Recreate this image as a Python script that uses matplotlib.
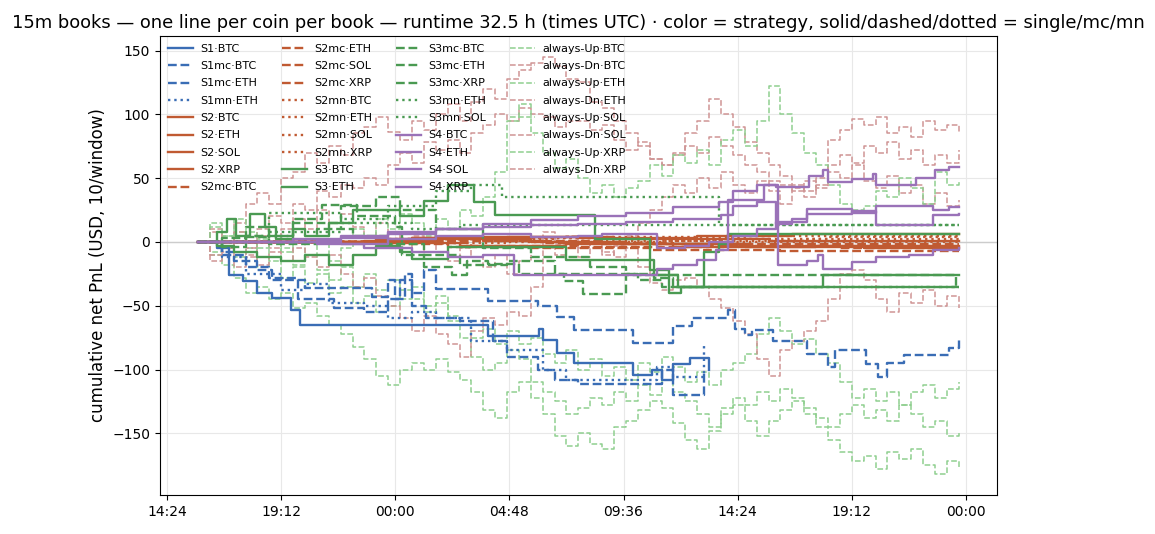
import numpy as np
import matplotlib
matplotlib.use("Agg")
import matplotlib.pyplot as plt
import matplotlib.dates as mdates
from matplotlib.ticker import MultipleLocator
import datetime as dt

START = dt.datetime(2025, 1, 1, 15, 42)

# ---- strategy step series: (hours since start, cumulative PnL) ----
S1_BTC_T = [0, 0.8, 1.3, 1.9, 2.5, 3.1, 3.9, 4.3, 12.2, 14.35, 14.5, 15.1, 15.8, 18.3, 19.1, 19.5, 20.0, 20.7, 21.5]
S1_BTC_V = [0, -5, -26, -31, -40, -44, -53, -65, -74, -68, -77, -87, -95, -104, -100, -108, -96, -91, -100]
S1mc_BTC_T = [0, 1.0, 1.5, 2.5, 3.1, 4.5, 7.3, 8.0, 8.3, 8.7, 9.0, 9.5, 10.0, 12.2, 14.3, 15.1, 15.8, 18.3, 20.0, 20.8, 22.3, 22.6, 23.0, 23.3, 24.2, 25.6, 26.5, 26.8, 28.1, 28.6, 29.0, 29.7, 31.6, 32.0]
S1mc_BTC_V = [0, -8, -15, -22, -30, -36, -43, -30, -45, -25, -40, -22, -37, -46, -50, -59, -69, -79, -66, -60, -53, -68, -73, -69, -78, -88, -98, -85, -96, -106, -95, -89, -83, -75]
S1mc_ETH_T = [0, 1.0, 2.0, 3.0, 4.2, 5.7, 7.0, 8.0, 8.5, 9.0, 9.6, 11.0, 12.4, 13.0, 14.3, 15.0, 16.0, 19.0, 19.5, 20.0, 21.2, 21.3]
S1mc_ETH_V = [0, -10, -20, -28, -45, -52, -55, -45, -30, -50, -60, -62, -78, -90, -100, -108, -111, -111, -100, -120, -120, -100]
S1mn_ETH_T = [0, 1.0, 2.0, 3.5, 4.5, 5.5, 7.0, 8.0, 9.0, 10.0, 11.5, 13.0, 14.5, 15.5, 19.0, 19.3, 20.0, 21.2, 21.3]
S1mn_ETH_V = [0, -12, -25, -38, -33, -48, -50, -60, -55, -60, -78, -85, -100, -108, -108, -98, -106, -106, -81]

S2_BTC_T = [0, 7.5, 9.0, 12.0, 16.0, 21.0, 25.0, 32.0]
S2_BTC_V = [0, 2, 3, 4, 3, 5, 6, 6]
S2_ETH_T = [0, 8.0, 11.0, 15.5, 20.0, 26.0, 32.0]
S2_ETH_V = [0, -1, -3, -2, -4, -3, -3]
S2_SOL_T = [0, 7.0, 10.0, 14.0, 18.0, 23.0, 28.0, 32.0]
S2_SOL_V = [0, 1, 2, 0, -2, -4, -5, -5]
S2_XRP_T = [0, 9.0, 13.0, 17.5, 24.0, 32.0]
S2_XRP_V = [0, 3, 4, 2, 1, 1]
S2mc_BTC_T = [0, 7.8, 10.5, 14.0, 19.0, 24.5, 32.0]
S2mc_BTC_V = [0, -2, -4, -5, -6, -7, -7]
S2mc_ETH_T = [0, 8.5, 12.0, 17.0, 22.0, 32.0]
S2mc_ETH_V = [0, 2, 1, -2, -3, -3]
S2mc_SOL_T = [0, 7.2, 11.5, 16.0, 21.5, 27.0, 32.0]
S2mc_SOL_V = [0, -1, -3, -4, -3, -5, -5]
S2mc_XRP_T = [0, 9.5, 14.5, 20.0, 32.0]
S2mc_XRP_V = [0, 1, -1, -2, -2]
S2mn_BTC_T = [0, 8.0, 12.5, 18.0, 26.5, 32.0]
S2mn_BTC_V = [0, 2, 3, 2, 4, 4]
S2mn_ETH_T = [0, 7.5, 11.0, 16.5, 23.0, 32.0]
S2mn_ETH_V = [0, 1, 3, 4, 5, 5]
S2mn_SOL_T = [0, 8.2, 13.0, 19.5, 25.5, 32.0]
S2mn_SOL_V = [0, -1, 0, 1, 2, 2]
S2mn_XRP_T = [0, 9.0, 15.0, 22.0, 32.0]
S2mn_XRP_V = [0, 2, 1, 0, 0]

S3_BTC_T = [0, 0.8, 1.2, 1.6, 2.2, 2.8, 3.3, 4.0, 4.5, 5.5, 6.5, 8.5, 9.5, 10.5, 11.6, 12.5, 16.3, 16.7, 18.0, 19.0, 19.8, 20.3, 21.3, 21.9, 22.3, 32.0]
S3_BTC_V = [0, 8, 18, 5, 22, 12, 2, 10, 5, 15, 25, 20, 32, 45, 31, 21, 21, 2, 2, -22, -40, -35, -8, -2, 6, 6]
S3_ETH_T = [0, 0.8, 1.5, 2.5, 3.5, 4.5, 5.5, 6.5, 7.5, 8.5, 9.0, 10.5, 14.5, 15.5, 18.5, 19.2, 20.2, 26.3, 32.0]
S3_ETH_V = [0, -3, -8, -12, -15, -10, -18, -10, -3, -8, -13, -4, -4, -14, -14, -26, -35, -26, -26]
S3mc_BTC_T = [0, 1.0, 2.0, 3.0, 4.0, 5.2, 6.7, 8.3, 8.6, 9.5, 10.7, 11.3, 12.2, 13.5, 15.4, 16.2, 17.5, 18.0, 31.9]
S3mc_BTC_V = [0, 3, 12, 5, 18, 29, 20, 12, -10, -20, -26, -15, -17, -25, -31, -41, -41, -26, -35]
S3mc_ETH_T = [0, 1.0, 2.0, 3.0, 5.0, 6.5, 8.0, 9.5, 11.0, 13.0, 15.0, 17.0, 18.5, 19.5, 32.0]
S3mc_ETH_V = [0, -4, 4, -2, 10, 5, -2, -10, -18, -15, -25, -25, -30, -35, -35]
S3mc_XRP_T = [0, 2.0, 4.0, 6.0, 7.5, 8.5, 10.0, 12.0, 14.0, 16.5, 18.0, 19.2, 20.0, 32.0]
S3mc_XRP_V = [0, 5, 15, 28, 35, 25, 10, -5, -12, -20, -25, -28, -35, -35]
S3mn_ETH_T = [0, 2.0, 3.0, 6.0, 8.0, 10.0, 11.5, 12.8, 21.9, 32.0]
S3mn_ETH_V = [0, 5, 23, 18, 28, 40, 45, 35, 13, 13]
S3mn_SOL_T = [0, 3.0, 6.0, 9.0, 11.0, 32.0]
S3mn_SOL_V = [0, 8, 15, 10, 13, 13]

S4_BTC_T = [0, 5.0, 6.0, 8.0, 10.0, 12.0, 14.0, 16.0, 18.0, 20.0, 21.9, 22.5, 23.5, 24.3, 25.7, 26.3, 26.5, 27.5, 28.4, 28.5, 30.2, 31.0, 31.6, 32.0]
S4_BTC_V = [0, 1, 3, 6, 10, 14, 17, 20, 23, 27, 31, 40, 45, 43, 52, 56, 47, 49, 53, 45, 50, 56, 59, 59]
S4_ETH_T = [0, 4.0, 6.0, 8.0, 10.0, 12.0, 14.0, 16.0, 18.0, 20.0, 22.0, 22.5, 23.5, 24.3, 25.0, 25.6, 27.5, 28.5, 30.9, 31.6, 32.0]
S4_ETH_V = [0, 2, 5, 8, 10, 12, 13, 14, 16, 18, 21, 28, 31, 14, 18, 26, 23, 28, 25, 27, 27]
S4_SOL_T = [0, 5.0, 7.0, 9.0, 10.5, 12.0, 13.3, 18.3, 19.3, 20.0, 21.0, 21.8, 22.3, 23.8, 24.4, 25.6, 26.1, 26.3, 27.5, 28.5, 29.9, 30.9, 32.0]
S4_SOL_V = [0, -2, -5, -8, -12, -10, -26, -26, -21, -18, -14, -6, 33, 45, -18, -15, -10, -21, -16, -12, -10, -6, -5]
S4_XRP_T = [0, 6.0, 8.0, 10.0, 12.0, 14.0, 16.0, 17.0, 19.3, 20.5, 21.5, 22.5, 23.5, 24.3, 25.6, 27.5, 28.5, 30.9, 32.0]
S4_XRP_V = [0, -2, 2, 5, 6, 4, 5, 6, -5, -3, 0, 5, 10, 16, 22, 24, 13, 21, 22]

# ---- baseline books, sampled every 30 min ----
ALW_T = [0.5 * k for k in range(65)]
UP_BTC = [0, -10, -18, -28, -40, -35, -45, -40, -52, -48, -58, -65, -72, -82, -92, -105, -112, -100, -95, -100, -92, -102, -108, -118, -132, -138, -118, -110, -122, -135, -152, -160, -150, -158, -162, -145, -140, -132, -125, -130, -142, -155, -162, -148, -135, -128, -140, -152, -140, -132, -125, -135, -145, -155, -165, -172, -168, -178, -165, -170, -162, -175, -182, -172, -177]
DN_BTC = [0, 8, -5, 15, 30, 38, 30, 50, 55, 70, 62, 75, 68, 85, 90, 98, 86, 80, 95, 88, 100, 108, 95, 110, 120, 112, 128, 135, 140, 145, 138, 128, 125, 110, 105, 95, 85, 75, 65, 60, 70, 85, 95, 112, 100, 90, 78, 70, 60, 52, 45, 40, 50, 80, 88, 96, 92, 98, 85, 90, 82, 95, 88, 92, 85]
UP_ETH = [0, -8, 5, -12, -5, -20, -12, -28, -20, -32, -25, -40, -35, -48, -42, -55, -50, -38, -45, -55, -48, -62, -75, -90, -100, -95, -85, -92, -110, -118, -125, -135, -130, -122, -128, -118, -125, -112, -120, -108, -118, -125, -135, -145, -130, -122, -128, -118, -125, -115, -122, -130, -138, -145, -135, -128, -138, -132, -140, -128, -135, -145, -140, -152, -148]
DN_ETH = [0, -10, -5, 5, -5, 10, 20, 15, 30, 25, 40, 35, 45, 42, 50, 45, 60, 70, 62, 78, 72, 80, 70, 85, 92, 100, 95, 105, 100, 98, 90, 95, 95, 88, 92, 80, 72, 78, 65, 60, 68, 75, 70, 82, 75, 68, 60, 55, 48, 45, 40, 48, 42, 60, 68, 62, 75, 70, 78, 65, 72, 60, 68, 62, 72]
UP_SOL = [0, 12, -3, 8, -8, 2, -15, -5, -18, -10, -22, -30, -20, -35, -25, -38, -30, -45, -35, -50, -42, -58, -65, -75, -68, -80, -70, -80, -75, -88, -95, -85, -100, -92, -105, -98, -108, -95, -102, -90, -98, -110, -102, -112, -100, -95, -88, -72, -60, -70, -80, -76, -88, -95, -110, -122, -115, -125, -118, -128, -118, -112, -122, -115, -110]
DN_SOL = [0, 10, -5, 8, -10, 5, -5, 10, 18, 10, 25, 15, 22, 12, 5, 15, 8, -5, 5, -8, -2, -15, -5, -12, -20, -10, -25, -15, -5, 8, -2, 5, -5, 0, -10, -3, 5, 15, 25, 35, 45, 38, 50, 42, 55, 45, 38, 48, 40, 30, 42, 35, 45, 55, 50, 60, 48, 42, 52, 38, 45, 30, 38, 28, 33]
UP_XRP = [0, 15, 5, 18, 8, -5, 5, -8, 2, -10, -2, -15, -5, 10, 5, 18, 10, 22, 15, 5, 18, 10, 25, 20, 35, 55, 95, 108, 85, 70, 58, 65, 50, 38, 45, 35, 42, 48, 60, 52, 68, 62, 72, 60, 80, 88, 75, 95, 122, 100, 85, 70, 60, 45, 30, 25, 28, 40, 35, 50, 42, 30, 55, 45, 48]
DN_XRP = [0, -15, -8, -20, -12, -18, -8, -15, -5, -12, -20, -10, -25, -35, -28, -42, -50, -60, -70, -58, -72, -80, -90, -70, -60, -65, -55, -58, -35, -5, -10, -5, -12, -2, -8, -12, -5, -20, -32, -38, -30, -28, -35, -45, -52, -62, -72, -92, -105, -85, -78, -70, -62, -45, -25, -22, -30, -45, -55, -40, -48, -38, -50, -42, -52]

C_S1, C_S2, C_S3, C_S4 = "#3a6db5", "#c05a32", "#4a9a52", "#9a72b8"
C_UP, C_DN = "#8fcf8f", "#cf9494"

strategy_series = [
    ("S1·BTC", S1_BTC_T, S1_BTC_V, C_S1, "-"),
    ("S1mc·BTC", S1mc_BTC_T, S1mc_BTC_V, C_S1, "--"),
    ("S1mc·ETH", S1mc_ETH_T, S1mc_ETH_V, C_S1, "--"),
    ("S1mn·ETH", S1mn_ETH_T, S1mn_ETH_V, C_S1, ":"),
    ("S2·BTC", S2_BTC_T, S2_BTC_V, C_S2, "-"),
    ("S2·ETH", S2_ETH_T, S2_ETH_V, C_S2, "-"),
    ("S2·SOL", S2_SOL_T, S2_SOL_V, C_S2, "-"),
    ("S2·XRP", S2_XRP_T, S2_XRP_V, C_S2, "-"),
    ("S2mc·BTC", S2mc_BTC_T, S2mc_BTC_V, C_S2, "--"),
    ("S2mc·ETH", S2mc_ETH_T, S2mc_ETH_V, C_S2, "--"),
    ("S2mc·SOL", S2mc_SOL_T, S2mc_SOL_V, C_S2, "--"),
    ("S2mc·XRP", S2mc_XRP_T, S2mc_XRP_V, C_S2, "--"),
    ("S2mn·BTC", S2mn_BTC_T, S2mn_BTC_V, C_S2, ":"),
    ("S2mn·ETH", S2mn_ETH_T, S2mn_ETH_V, C_S2, ":"),
    ("S2mn·SOL", S2mn_SOL_T, S2mn_SOL_V, C_S2, ":"),
    ("S2mn·XRP", S2mn_XRP_T, S2mn_XRP_V, C_S2, ":"),
    ("S3·BTC", S3_BTC_T, S3_BTC_V, C_S3, "-"),
    ("S3·ETH", S3_ETH_T, S3_ETH_V, C_S3, "-"),
    ("S3mc·BTC", S3mc_BTC_T, S3mc_BTC_V, C_S3, "--"),
    ("S3mc·ETH", S3mc_ETH_T, S3mc_ETH_V, C_S3, "--"),
    ("S3mc·XRP", S3mc_XRP_T, S3mc_XRP_V, C_S3, "--"),
    ("S3mn·ETH", S3mn_ETH_T, S3mn_ETH_V, C_S3, ":"),
    ("S3mn·SOL", S3mn_SOL_T, S3mn_SOL_V, C_S3, ":"),
    ("S4·BTC", S4_BTC_T, S4_BTC_V, C_S4, "-"),
    ("S4·ETH", S4_ETH_T, S4_ETH_V, C_S4, "-"),
    ("S4·SOL", S4_SOL_T, S4_SOL_V, C_S4, "-"),
    ("S4·XRP", S4_XRP_T, S4_XRP_V, C_S4, "-"),
]
baseline_series = [
    ("always-Up·BTC", UP_BTC, C_UP), ("always-Dn·BTC", DN_BTC, C_DN),
    ("always-Up·ETH", UP_ETH, C_UP), ("always-Dn·ETH", DN_ETH, C_DN),
    ("always-Up·SOL", UP_SOL, C_UP), ("always-Dn·SOL", DN_SOL, C_DN),
    ("always-Up·XRP", UP_XRP, C_UP), ("always-Dn·XRP", DN_XRP, C_DN),
]

def to_dates(hours):
    return mdates.date2num([START + dt.timedelta(hours=h) for h in hours])

fig = plt.figure(figsize=(11.55, 5.34), dpi=100)
ax = fig.add_axes([0.1385, 0.073, 0.7245, 0.8595])

ax.axhline(0, color="#cccccc", lw=1.0, zorder=1)
for label, t, v, c, ls in strategy_series:
    ax.plot(to_dates(t), v, drawstyle="steps-post", color=c, ls=ls, lw=1.7, label=label, zorder=3)
for label, v, c in baseline_series:
    ax.plot(to_dates(ALW_T), v, drawstyle="steps-post", color=c, ls="--", lw=1.1, label=label, zorder=2)

ax.xaxis.set_major_locator(MultipleLocator(0.2))
ax.xaxis.set_major_formatter(mdates.DateFormatter("%H:%M"))
ax.grid(True, color="#e8e8e8", lw=0.8)
ax.set_axisbelow(True)
ax.set_ylabel("cumulative net PnL (USD, 10/window)", fontsize=12)
ax.set_title("15m books — one line per coin per book — runtime 32.5 h (times UTC) · color = strategy, solid/dashed/dotted = single/mc/mn", fontsize=12.9)
ax.tick_params(labelsize=10)
ax.legend(loc="upper left", ncol=4, fontsize=8, frameon=False, handlelength=2.25,
          handletextpad=0.7, columnspacing=2.1, labelspacing=0.66, borderaxespad=0.3)

fig.savefig("out.png", dpi=100)
